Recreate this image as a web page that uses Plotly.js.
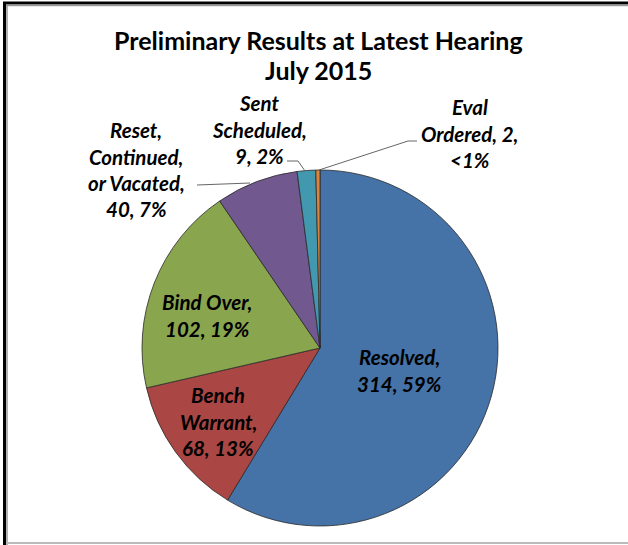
<!DOCTYPE html>
<html>
<head>
<meta charset="utf-8">
<script src="https://cdn.plot.ly/plotly-3.0.1.min.js"></script>
<style>html,body{margin:0;padding:0;background:#fff;}#chart{width:628px;height:545px;}</style>
</head>
<body>
<div id="chart"></div>
<script>
// ---- data ----
const titleLines = ["Preliminary Results at Latest Hearing", "July 2015"];
const categories = ["Resolved", "Bench Warrant", "Bind Over", "Reset, Continued, or Vacated", "Sent Scheduled", "Eval Ordered"];
const counts = [314, 68, 102, 40, 9, 2];
const pctLabels = ["59%", "13%", "19%", "7%", "2%", "<1%"];
const labelLines = [
  ["Resolved,", "314, 59%"],
  ["Bench", "Warrant,", "68, 13%"],
  ["Bind Over,", "102, 19%"],
  ["Reset,", "Continued,", "or Vacated,", "40, 7%"],
  ["Sent", "Scheduled,", "9, 2%"],
  ["Eval", "Ordered, 2,", "<1%"]
];
const sliceColors = ["#4572A7", "#AA4643", "#89A54E", "#71588F", "#4198AF", "#DB843D"];

// ---- layout helpers (pixel -> paper, margins are zero) ----
const W = 628, H = 545;
const px = x => x / W;
const py = y => 1 - y / H;

// label centers (first line center) in pixels
const labelPos = [
  [399, 357],
  [218, 395],
  [207, 302],
  [136, 130],
  [259, 103],
  [470, 107]
];
const lineGap = 26.5;
const labelFont = {family: "Lato, 'Open Sans', sans-serif", size: 20.5, color: "#000"};

const annotations = [];
labelLines.forEach((lines, i) => {
  lines.forEach((t, j) => {
    annotations.push({
      text: "<b><i>" + t.replace(/</g, "&lt;") + "</i></b>",
      x: px(labelPos[i][0]), y: py(labelPos[i][1] + j * lineGap),
      xref: "paper", yref: "paper", xanchor: "center", yanchor: "middle",
      showarrow: false, font: labelFont
    });
  });
});
const titleY = [40, 70];
titleLines.forEach((t, j) => {
  annotations.push({
    text: "<b>" + t + "</b>",
    x: px(318.5), y: py(titleY[j]),
    xref: "paper", yref: "paper", xanchor: "center", yanchor: "middle",
    showarrow: false, font: {family: "Lato, 'Open Sans', sans-serif", size: 25, color: "#000"}
  });
});

const cx = 320, cy = 348, r = 178;

const shapes = [
  // frame
  {type: "line", xref: "paper", yref: "paper", x0: px(3), x1: px(628), y0: py(3), y1: py(3), line: {color: "#000", width: 3}},
  {type: "line", xref: "paper", yref: "paper", x0: px(6), x1: px(628), y0: py(5.5), y1: py(5.5), line: {color: "#999", width: 1.5}},
  {type: "line", xref: "paper", yref: "paper", x0: px(4.5), x1: px(4.5), y0: py(2), y1: py(545), line: {color: "#000", width: 3}},
  {type: "line", xref: "paper", yref: "paper", x0: px(7), x1: px(7), y0: py(5), y1: py(545), line: {color: "#999", width: 1.5}},
  {type: "line", xref: "paper", yref: "paper", x0: px(6), x1: px(628), y0: py(543), y1: py(543), line: {color: "#bbb", width: 2}},
  // leader lines
  {type: "path", xref: "paper", yref: "paper",
   path: `M ${px(197)} ${py(185)} L ${px(250)} ${py(183)}`, line: {color: "#666", width: 1}},
  {type: "path", xref: "paper", yref: "paper",
   path: `M ${px(287)} ${py(161)} L ${px(298)} ${py(161)} L ${px(305)} ${py(171)}`, line: {color: "#666", width: 1}},
  {type: "path", xref: "paper", yref: "paper",
   path: `M ${px(417)} ${py(141)} L ${px(408)} ${py(141)} L ${px(319)} ${py(170)}`, line: {color: "#666", width: 1}}
];

const trace = {
  type: "pie",
  labels: categories,
  values: counts,
  sort: false,
  direction: "clockwise",
  rotation: 0,
  textinfo: "none",
  hoverinfo: "label+value+percent",
  marker: {colors: sliceColors, line: {color: "#2a2a2a", width: 0.8}},
  domain: {x: [px(cx - r), px(cx + r)], y: [py(cy + r), py(cy - r)]},
  showlegend: false
};

const layout = {
  width: W, height: H,
  margin: {l: 0, r: 0, t: 0, b: 0},
  paper_bgcolor: "#fff",
  annotations: annotations,
  shapes: shapes
};

Plotly.newPlot("chart", [trace], layout, {displayModeBar: false, staticPlot: true});
</script>
</body>
</html>
